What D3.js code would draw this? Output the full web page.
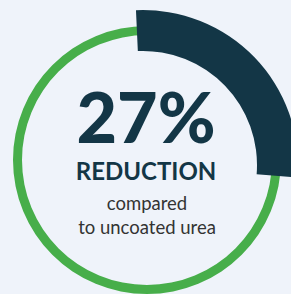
<!DOCTYPE html>
<html>
<head>
<meta charset="utf-8">
<script src="https://cdn.jsdelivr.net/npm/d3@7"></script>
<style>
  html, body { margin: 0; padding: 0; background: #eff3fa; }
  svg { display: block; }
</style>
</head>
<body>
<div id="vis-donut"></div>
<script>
// values
const share = 27;              // percent
const headline = ["27%"];
const subTitle = ["REDUCTION"];
const noteLines = ["compared", "to uncoated urea"];

const width = 291, height = 294;
const cx = 147, cy = 160;

const svg = d3.select("#vis-donut")
    .append("svg")
    .attr("width", width)
    .attr("height", height);

const g = svg.append("g")
    .attr("transform", `translate(${cx},${cy})`);

// percent -> angle, a bit rotated back like the original
const offset = -2.6 * Math.PI / 180;
const angle = d3.scaleLinear()
    .domain([0, 100])
    .range([offset, offset + 2 * Math.PI]);

// green track (full circle)
g.append("path")
    .attr("d", d3.arc()
        .innerRadius(125)
        .outerRadius(134)
        .startAngle(0)
        .endAngle(2 * Math.PI)())
    .attr("fill", "#47ae4a");

// dark share arc, its centre sits a little lower-left than the ring's
g.append("path")
    .attr("transform", "translate(-4,5)")
    .attr("d", d3.arc()
        .innerRadius(114)
        .outerRadius(155)
        .startAngle(angle(0))
        .endAngle(angle(share))())
    .attr("fill", "#133646");

// texts
g.selectAll("text.big")
    .data(headline)
    .enter().append("text")
    .attr("class", "big")
    .attr("x", -1)
    .attr("y", 143 - cy)
    .attr("text-anchor", "middle")
    .style("font-family", "Lato, sans-serif")
    .style("font-weight", 900)
    .style("font-size", "70px")
    .style("fill", "#133646")
    .text(d => d);

g.selectAll("text.sub")
    .data(subTitle)
    .enter().append("text")
    .attr("class", "sub")
    .attr("x", -1)
    .attr("y", 179.5 - cy)
    .attr("text-anchor", "middle")
    .style("font-family", "Lato, sans-serif")
    .style("font-weight", 700)
    .style("font-size", "24px")
    .style("fill", "#133646")
    .text(d => d);

g.selectAll("text.note")
    .data(noteLines)
    .enter().append("text")
    .attr("class", "note")
    .attr("x", 0)
    .attr("y", (d, i) => 210 - cy + i * 24)
    .attr("text-anchor", "middle")
    .style("font-family", "Lato, sans-serif")
    .style("font-size", "18.5px")
    .style("fill", "#333333")
    .text(d => d);
</script>
</body>
</html>
